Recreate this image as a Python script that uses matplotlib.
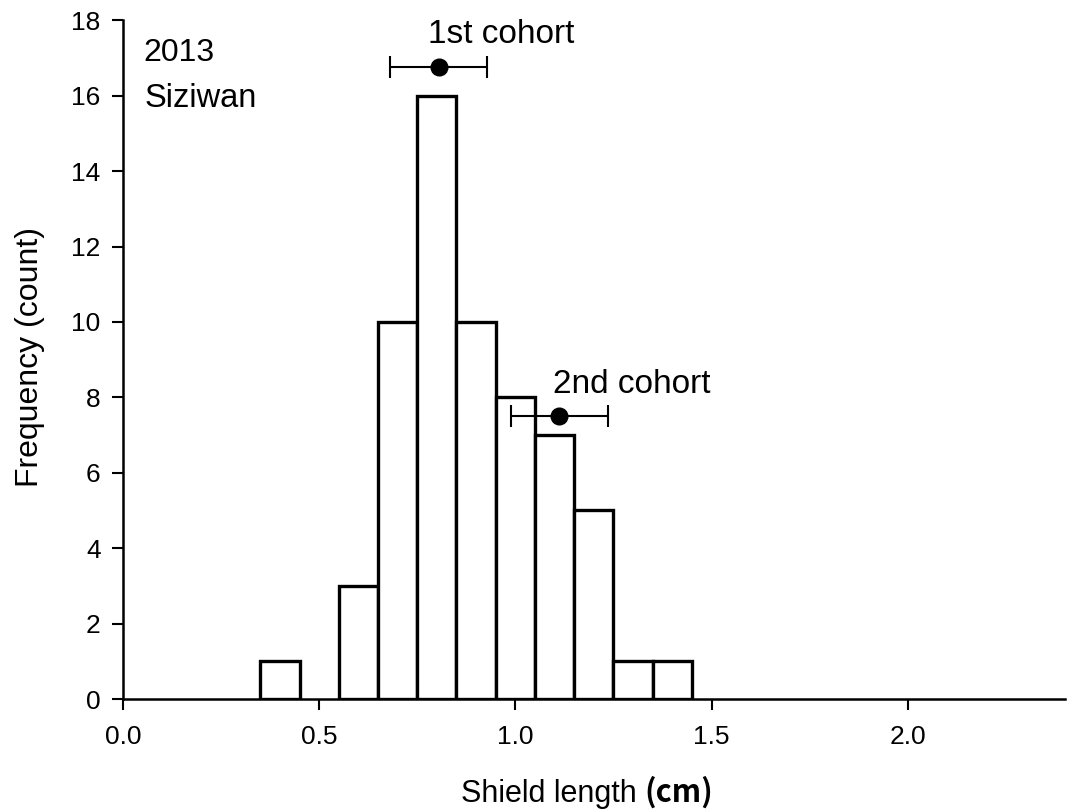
import matplotlib.pyplot as plt

plt.rcParams['font.family'] = ['Liberation Sans', 'DejaVu Sans']

# histogram bins (centres, width 0.1 cm) and counts
bin_centers = [0.4, 0.5, 0.6, 0.7, 0.8, 0.9, 1.0, 1.1, 1.2, 1.3, 1.4]
counts = [1, 0, 3, 10, 16, 10, 8, 7, 5, 1, 1]
bin_width = 0.1

# cohort means with +/- error
cohort_names = ['1st cohort', '2nd cohort']
cohort_mean = [0.805, 1.112]
cohort_err = [0.124, 0.123]
cohort_y = [16.75, 7.5]

fig = plt.figure(figsize=(10.69, 8.10), dpi=100)
ax = fig.add_axes([0.115, 0.137, 0.881, 0.838])

centers = [c for c, n in zip(bin_centers, counts) if n > 0]
heights = [n for n in counts if n > 0]
ax.bar(centers, heights, width=bin_width, facecolor='white', edgecolor='black', linewidth=2.4, zorder=2)

ax.errorbar(cohort_mean, cohort_y, xerr=cohort_err, fmt='o', color='black', markersize=12,
            capsize=8, elinewidth=1.5, capthick=1.5, zorder=3)

# labels above the cohort markers and the site/year note
ax.text(0.965, 17.40, cohort_names[0], fontsize=24, ha='center', va='baseline')
ax.text(1.297, 8.11, cohort_names[1], fontsize=24, ha='center', va='baseline')
ax.text(0.052, 16.93, '2013', fontsize=23, ha='left', va='baseline')
ax.text(0.055, 15.71, 'Siziwan', fontsize=23.5, ha='left', va='baseline')

ax.set_xlim(0, 2.4)
ax.set_ylim(0, 18)
ax.set_xticks([0.0, 0.5, 1.0, 1.5, 2.0])
ax.set_xticklabels(['0.0', '0.5', '1.0', '1.5', '2.0'])
ax.set_yticks(range(0, 19, 2))

for s in ['top', 'right']:
    ax.spines[s].set_visible(False)
for s in ['left', 'bottom']:
    ax.spines[s].set_linewidth(1.8)
ax.tick_params(direction='out', length=8, width=1.5, labelsize=19)
ax.tick_params(axis='x', pad=11)
ax.tick_params(axis='y', pad=8)

fig.text(30 / 1069, 1 - 357 / 810, 'Frequency (count)', fontsize=23, rotation=90, ha='center', va='center')
fig.text(637 / 1069, 1 - 802 / 810, 'Shield length', fontsize=22, ha='right', va='baseline')
fig.text(644 / 1069, 1 - 802 / 810, '(cm)', fontsize=22, fontweight='bold',
         family=['Noto Sans CJK KR', 'DejaVu Sans'], ha='left', va='baseline')

fig.savefig('out.png', dpi=100, facecolor='white')
